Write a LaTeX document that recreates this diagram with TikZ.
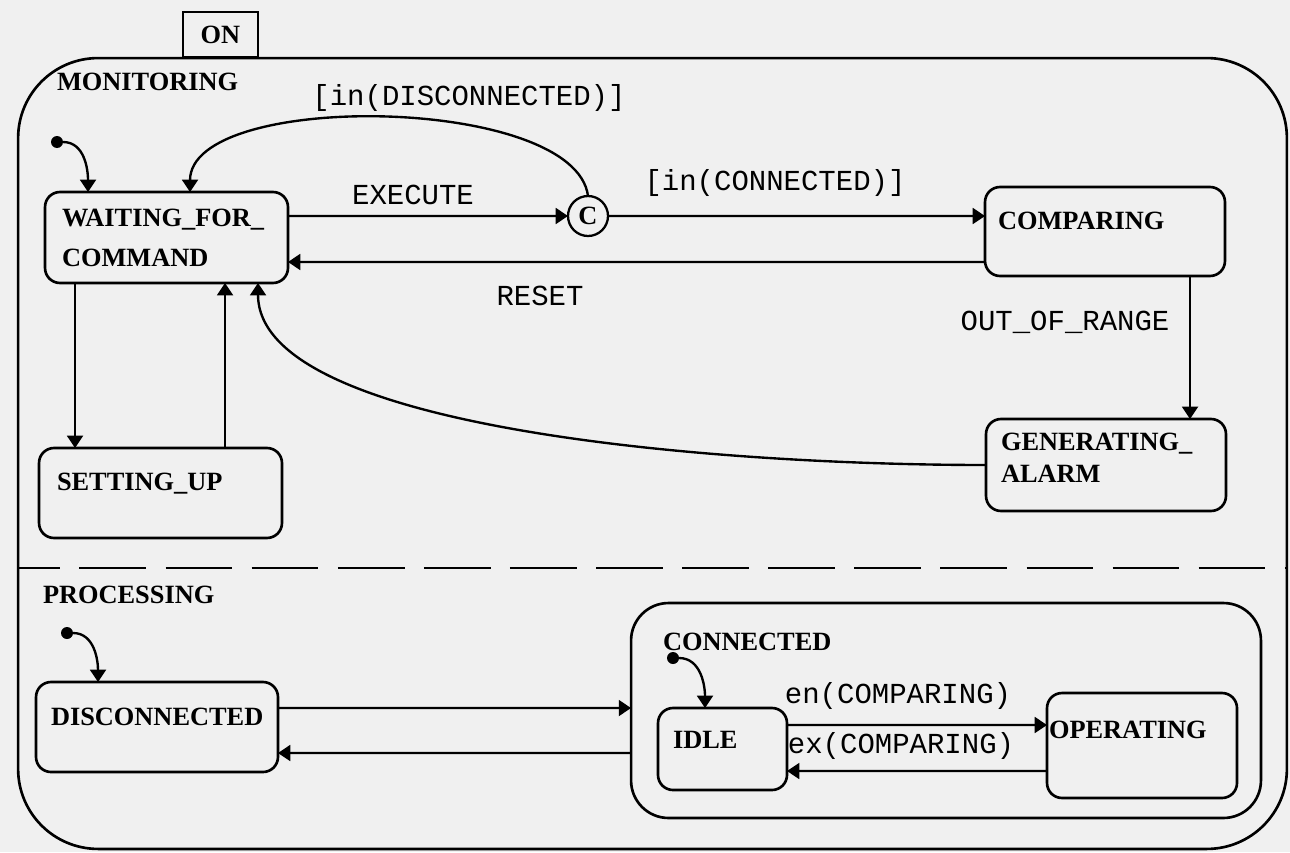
\documentclass[tikz,border=0pt]{standalone}
\usepackage{fontspec}
\setmainfont{Liberation Serif}
\newfontfamily\monofont{Liberation Mono}
\usetikzlibrary{arrows.meta,calc}
\begin{document}
\begin{tikzpicture}[x=0.02cm,y=-0.02cm,
  every node/.style={inner sep=0pt, outer sep=0pt},
  statebox/.style={draw, line width=1.5pt, rounded corners=0.3cm},
  stname/.style={font=\fontsize{15}{18}\selectfont\bfseries, anchor=west, align=left},
  trlabel/.style={font=\monofont\fontsize{16.5}{18}\selectfont},
  arr/.style={line width=1.35pt, -{Triangle[width=9pt,length=7pt]}},
  initdot/.style={circle, fill, minimum size=0.24cm},
]
\fill[black!6] (0,0) rectangle (1290,852);
\useasboundingbox (0,0) rectangle (1290,852);

% outer superstate ON
\node[draw, line width=1.5pt, rounded corners=1.6cm, minimum width=25.38cm, minimum height=15.82cm] (on) at (652.5,453.5) {};
\node[draw, line width=1.5pt, fill=black!6, minimum width=1.5cm, minimum height=0.9cm, font=\fontsize{15}{18}\selectfont\bfseries] (ontab) at (220.5,34.5) {ON};
\coordinate (sepL) at (18,568);
\coordinate (sepR) at (1287,568);
\draw[line width=1.5pt, dash pattern=on 38pt off 11pt, dash phase=14pt] (sepL) -- (sepR);

\node[stname] (monl) at (57,82) {MONITORING};
\node[stname] (procl) at (43,595) {PROCESSING};

% MONITORING states
\node[statebox, minimum width=4.86cm, minimum height=1.82cm] (wfc) at (166.5,237.5) {};
\node[stname, font=\fontsize{15}{23}\selectfont\bfseries] (wfct) at (62,238) {WAITING\_FOR\_\\COMMAND};
\node[statebox, minimum width=4.8cm, minimum height=1.78cm] (comp) at (1105,231.5) {};
\node[stname] (compt) at (998,221) {COMPARING};
\node[statebox, minimum width=4.8cm, minimum height=1.84cm] (gen) at (1106,465) {};
\node[stname, font=\fontsize{15}{18}\selectfont\bfseries] (gent) at (1001,458) {GENERATING\_\\ALARM};
\node[statebox, minimum width=4.86cm, minimum height=1.8cm] (setup) at (160.5,493) {};
\node[stname] (setupt) at (57,484) {SETTING\_UP};
\node[draw, circle, line width=1.3pt, minimum size=0.8cm, font=\fontsize{15}{18}\selectfont\bfseries] (cc) at (588,216) {C};
\node[initdot] (i1) at (57,142) {};

% PROCESSING states
\node[statebox, minimum width=4.84cm, minimum height=1.8cm] (disc) at (157,727) {};
\node[stname] (disct) at (51,717) {DISCONNECTED};
\node[statebox, rounded corners=0.75cm, minimum width=12.6cm, minimum height=4.3cm] (conn) at (946,710.5) {};
\node[stname] (connt) at (663,642) {CONNECTED};
\node[statebox, minimum width=2.58cm, minimum height=1.64cm] (idle) at (722.5,749) {};
\node[stname] (idlet) at (673,740) {IDLE};
\node[statebox, minimum width=3.8cm, minimum height=2.1cm] (oper) at (1142,745.5) {};
\node[stname] (opert) at (1049,730) {OPERATING};
\node[initdot] (i2) at (67,633) {};
\node[initdot] (i3) at (673,658) {};

% transitions (MONITORING)
\draw[arr] (i1) to[out=0,in=90] ($(wfc.north west)+(43,0)$);
\draw[arr] ($(wfc.north east)+(0,24)$) -- (cc.west);
\node[trlabel] (lexec) at (413,195) {EXECUTE};
\draw[arr] (cc.north) .. controls (575,95) and (190,90) .. ($(wfc.north west)+(145,0)$);
\node[trlabel] (ldisc) at (469,98) {[in(DISCONNECTED)]};
\draw[arr] (cc.east) -- ($(comp.north west)+(0,29)$);
\node[trlabel] (lconn) at (775,183) {[in(CONNECTED)]};
\draw[arr] ($(comp.south west)+(0,-14)$) -- ($(wfc.south east)+(0,-21)$);
\node[trlabel] (lreset) at (540,296) {RESET};
\draw[arr] ($(comp.south west)+(205,0)$) -- ($(gen.north west)+(204,0)$);
\node[trlabel] (loor) at (1065,322) {OUT\_OF\_RANGE};
\draw[arr] (gen.west) .. controls (720,465) and (258,430) .. ($(wfc.south west)+(213,0)$);
\draw[arr] ($(wfc.south west)+(30,0)$) -- ($(setup.north west)+(36,0)$);
\draw[arr] ($(setup.north west)+(186,0)$) -- ($(wfc.south west)+(180,0)$);

% transitions (PROCESSING)
\draw[arr] (i2) to[out=0,in=90] ($(disc.north west)+(62,0)$);
\draw[arr] ($(disc.north east)+(0,26)$) -- ($(conn.north west)+(0,105)$);
\draw[arr] ($(conn.north west)+(0,150)$) -- ($(disc.north east)+(0,71)$);
\draw[arr] (i3) to[out=0,in=90] ($(idle.north west)+(47,0)$);
\draw[arr] ($(idle.north east)+(0,17)$) -- ($(oper.north west)+(0,32)$);
\node[trlabel] (len) at (898,696) {en(COMPARING)};
\draw[arr] ($(oper.north west)+(0,78)$) -- ($(idle.north east)+(0,63)$);
\node[trlabel] (lex) at (901,746) {ex(COMPARING)};
\end{tikzpicture}
\end{document}
